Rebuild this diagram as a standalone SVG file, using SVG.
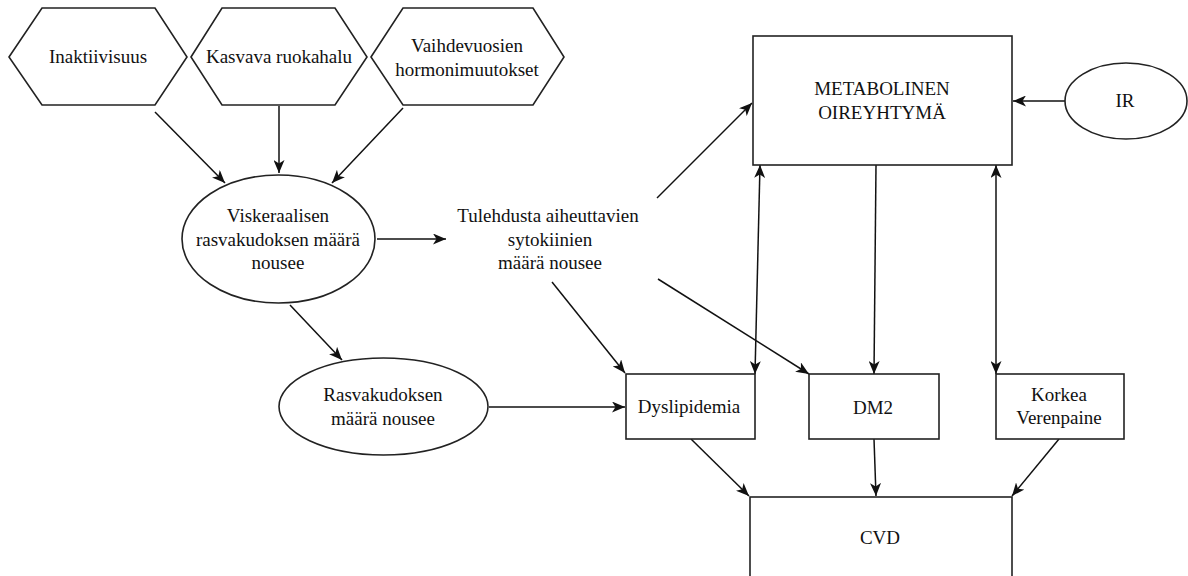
<svg xmlns="http://www.w3.org/2000/svg" width="1188" height="576" viewBox="0 0 1188 576">
<defs>
<marker id="arr" viewBox="0 0 13 11" refX="13" refY="5.5" markerWidth="13" markerHeight="11" markerUnits="userSpaceOnUse" orient="auto-start-reverse">
<path d="M0,0 L13,5.5 L0,11 L3.5,5.5 Z" fill="#111"/>
</marker>
<style>
.shape{fill:#fff;stroke:#222;stroke-width:1.6}
.lbl{font-family:"Liberation Serif","Times New Roman",serif;font-size:19px;fill:#111;text-anchor:middle}
.edge{fill:none;stroke:#111;stroke-width:1.5;marker-end:url(#arr)}
.both{marker-start:url(#arr)}
</style>
</defs>
<rect width="1188" height="576" fill="#fff"/>
<g id="connectors">
<line class="edge" x1="155" y1="112" x2="225" y2="183"/>
<line class="edge" x1="279" y1="106" x2="279" y2="173"/>
<line class="edge" x1="403" y1="108" x2="332" y2="183"/>
<line class="edge" x1="377" y1="239" x2="446" y2="239"/>
<line class="edge" x1="290" y1="305" x2="342" y2="360"/>
<line class="edge" x1="489" y1="407" x2="625" y2="407"/>
<line class="edge" x1="552" y1="282" x2="625" y2="373"/>
<line class="edge" x1="657" y1="198" x2="752" y2="103"/>
<line class="edge" x1="658" y1="279" x2="809" y2="374"/>
<line class="edge" x1="1065" y1="101" x2="1013" y2="101"/>
<line class="edge both" x1="760" y1="165" x2="755" y2="374"/>
<line class="edge" x1="876" y1="165" x2="874" y2="374"/>
<line class="edge both" x1="996" y1="165" x2="996" y2="374"/>
<line class="edge" x1="691" y1="439" x2="749" y2="496"/>
<line class="edge" x1="874" y1="439" x2="876" y2="496"/>
<line class="edge" x1="1059" y1="439" x2="1012" y2="496"/>
</g>
<g id="inaktiivisuus">
<polygon class="shape" points="9,57 42,8 155,8 187,57 155,105 42,105"/>
<text class="lbl" x="98" y="63">Inaktiivisuus</text>
</g>
<g id="kasvava">
<polygon class="shape" points="191,57 222,8 335,8 367,57 335,105 222,105"/>
<text class="lbl" x="279" y="63">Kasvava ruokahalu</text>
</g>
<g id="vaihdevuosien">
<polygon class="shape" points="371,57 403,8 533,8 564,57 533,105 403,105"/>
<text class="lbl" x="467" y="52">Vaihdevuosien</text>
<text class="lbl" x="467" y="76">hormonimuutokset</text>
</g>
<g id="viskeraalisen">
<ellipse class="shape" cx="278.5" cy="239" rx="96.5" ry="64"/>
<text class="lbl" x="278" y="222">Viskeraalisen</text>
<text class="lbl" x="278" y="246">rasvakudoksen määrä</text>
<text class="lbl" x="278" y="269">nousee</text>
</g>
<g id="tulehdusta">
<text class="lbl" x="548" y="222">Tulehdusta aiheuttavien</text>
<text class="lbl" x="550" y="246">sytokiinien</text>
<text class="lbl" x="550" y="269">määrä nousee</text>
</g>
<g id="rasvakudoksen">
<ellipse class="shape" cx="383.5" cy="406.5" rx="104.5" ry="48.5"/>
<text class="lbl" x="383" y="401">Rasvakudoksen</text>
<text class="lbl" x="383" y="425">määrä nousee</text>
</g>
<g id="metabolinen">
<rect class="shape" x="753" y="36" width="259" height="129"/>
<text class="lbl" x="882" y="95">METABOLINEN</text>
<text class="lbl" x="882" y="119">OIREYHTYMÄ</text>
</g>
<g id="ir">
<ellipse class="shape" cx="1126" cy="101" rx="61" ry="38"/>
<text class="lbl" x="1125" y="107">IR</text>
</g>
<g id="dyslipidemia">
<rect class="shape" x="626" y="374" width="129" height="65"/>
<text class="lbl" x="689" y="413">Dyslipidemia</text>
</g>
<g id="dm2">
<rect class="shape" x="809" y="374" width="130" height="65"/>
<text class="lbl" x="873" y="414">DM2</text>
</g>
<g id="korkea">
<rect class="shape" x="996" y="374" width="128" height="65"/>
<text class="lbl" x="1059" y="401">Korkea</text>
<text class="lbl" x="1059" y="424">Verenpaine</text>
</g>
<g id="cvd">
<rect class="shape" x="750" y="497" width="262" height="100"/>
<text class="lbl" x="880" y="544">CVD</text>
</g>
</svg>
